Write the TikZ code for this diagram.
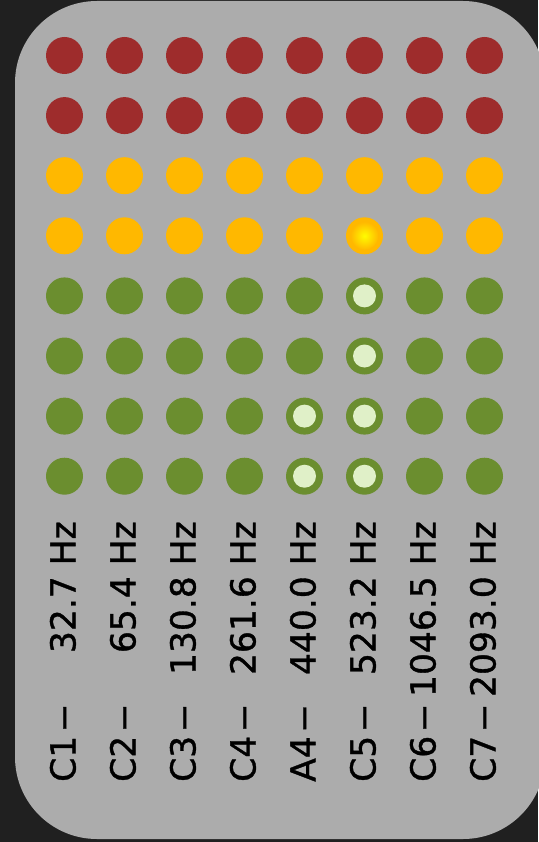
\documentclass[tikz,border=0pt]{standalone}
\usepackage{fontspec}
\setmainfont{DejaVu Sans}
\newfontfamily\ledfont[FakeBold=1]{DejaVu Sans}
\usetikzlibrary{positioning}
\definecolor{bgdark}{RGB}{32,32,32}
\definecolor{panelgrey}{RGB}{172,172,172}
\definecolor{ledred}{RGB}{158,44,44}
\definecolor{ledamber}{RGB}{255,184,0}
\definecolor{ledgreen}{RGB}{107,142,47}
\definecolor{ledglow}{RGB}{224,240,200}
\definecolor{ledyellow}{RGB}{255,252,0}

\begin{document}
\begin{tikzpicture}[
    x=1pt, y=-1pt,
    led/.style={
        circle,
        inner sep=0pt,
        minimum size=37pt
    },
    litgreen/.style={
        circle,
        inner sep=0pt,
        minimum size=23pt,
        fill=ledglow
    },
    litamber/.style={
        circle,
        inner sep=0pt,
        minimum size=28pt,
        inner color=ledyellow,
        outer color=ledamber
    },
    notelabel/.style={
        rotate=90,
        inner sep=0pt,
        anchor=base west,
        font=\ledfont\fontsize{34.5}{40}\selectfont
    },
    freqlabel/.style={
        rotate=90,
        inner sep=0pt,
        anchor=base east,
        font=\ledfont\fontsize{34.5}{40}\selectfont
    }
]

\useasboundingbox (0,0) rectangle (538,842);

% Background and panel
\fill[bgdark] (0,0) rectangle (538,842);
\fill[panelgrey, rounded corners=82pt] (15,1) rectangle (545,839);

% LED grid
\foreach \c in {1,...,8} {
    \foreach \r in {1,2}
        \node[led, fill=ledred] (led-\r-\c) at ({4.5+60*\c}, {-4.6+60.1*\r}) {};
    \foreach \r in {3,4}
        \node[led, fill=ledamber] (led-\r-\c) at ({4.5+60*\c}, {-4.6+60.1*\r}) {};
    \foreach \r in {5,...,8}
        \node[led, fill=ledgreen] (led-\r-\c) at ({4.5+60*\c}, {-4.6+60.1*\r}) {};
}

% Lit LEDs
\node[litamber] (lit-4-6) at (led-4-6) {};
\node[litgreen] (lit-5-6) at (led-5-6) {};
\node[litgreen] (lit-6-6) at (led-6-6) {};
\node[litgreen] (lit-7-6) at (led-7-6) {};
\node[litgreen] (lit-8-6) at (led-8-6) {};
\node[litgreen] (lit-7-5) at (led-7-5) {};
\node[litgreen] (lit-8-5) at (led-8-5) {};

% Note labels
\foreach \c/\n/\f in {1/C1/32.7, 2/C2/65.4, 3/C3/130.8, 4/C4/261.6,
                      5/A4/440.0, 6/C5/523.2, 7/C6/1046.5, 8/C7/2093.0} {
    \node[notelabel] (note-\c) at ({15.5+60*\c}, 782) {\n\kern0.1em−};
    \node[freqlabel] (freq-\c) at ({15.5+60*\c}, 521) {\f\ Hz};
}

\end{tikzpicture}
\end{document}
